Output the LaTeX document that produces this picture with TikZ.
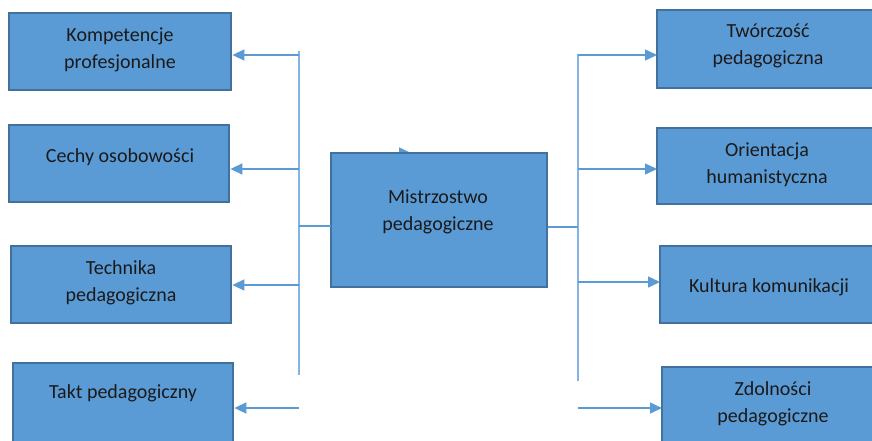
\documentclass[tikz,border=0pt]{standalone}
\usepackage{fontspec}
\setmainfont{Carlito}
\usetikzlibrary{arrows.meta,backgrounds}
\definecolor{boxfill}{HTML}{5B9BD5}
\definecolor{boxline}{HTML}{41719C}
\definecolor{arrcol}{HTML}{5B9BD5}
\definecolor{trunkcol}{HTML}{86B3E3}
\definecolor{txtcol}{HTML}{1A1A1A}
\tikzset{
  box/.style={draw=boxline, fill=boxfill, line width=1.4pt, rectangle, inner sep=0pt},
  lbl/.style={align=center, text=txtcol, font=\fontsize{20}{27}\selectfont, inner sep=0pt},
  arr/.style={draw=arrcol, line width=1.5pt, -{Triangle[length=12pt,width=11pt]}},
  link/.style={draw=arrcol, line width=1.5pt},
  trunk/.style={draw=trunkcol, line width=2pt},
}
\begin{document}
\begin{tikzpicture}[x=1pt,y=-1pt]
\useasboundingbox (0,0) rectangle (872,440);
% boxes
\path[box] (9,13) rectangle (231,90) node[pos=0,anchor=north west,minimum width=222,minimum height=77,inner sep=0pt] (L1) {};
\path[box] (9,125) rectangle (229,202) node[pos=0,anchor=north west,minimum width=220,minimum height=77,inner sep=0pt] (L2) {};
\path[box] (11,246) rectangle (231,323) node[pos=0,anchor=north west,minimum width=220,minimum height=77,inner sep=0pt] (L3) {};
\path[box] (13,363) rectangle (233,445) node[pos=0,anchor=north west,minimum width=220,minimum height=82,inner sep=0pt] (L4) {};
\path[box] (657,10) rectangle (876,88) node[pos=0,anchor=north west,minimum width=219,minimum height=78,inner sep=0pt] (R1) {};
\path[box] (657,128) rectangle (876,204) node[pos=0,anchor=north west,minimum width=219,minimum height=76,inner sep=0pt] (R2) {};
\path[box] (660,246) rectangle (876,323) node[pos=0,anchor=north west,minimum width=216,minimum height=77,inner sep=0pt] (R3) {};
\path[box] (662,367) rectangle (876,445) node[pos=0,anchor=north west,minimum width=214,minimum height=78,inner sep=0pt] (R4) {};
\path[box] (331,153) rectangle (547,287) node[pos=0,anchor=north west,minimum width=216,minimum height=134,inner sep=0pt] (C) {};
% labels
\node[lbl] (tL1) at (120,50) {Kompetencje\\profesjonalne};
\node[lbl] (tL2) at (120,157) {Cechy osobowości};
\node[lbl] (tL3) at (121,283) {Technika\\pedagogiczna};
\node[lbl] (tL4) at (123,393) {Takt pedagogiczny};
\node[lbl] (tR1) at (768,46) {Twórczość\\pedagogiczna};
\node[lbl] (tR2) at (767,165) {Orientacja\\humanistyczna};
\node[lbl] (tR3) at (769,287) {Kultura komunikacji};
\node[lbl] (tR4) at (773,404) {Zdolności\\pedagogiczne};
\node[lbl] (tC) at (438,212) {Mistrzostwo\\pedagogiczne};
% trunk coordinates
\coordinate (ltop) at (299,51);
\coordinate (lbot) at (299,375);
\coordinate (l1) at (299,55);
\coordinate (l2) at (299,169);
\coordinate (l3) at (299,285);
\coordinate (l4) at (299,408);
\coordinate (lj) at (299,226);
\coordinate (rtop) at (578,54);
\coordinate (rbot) at (578,381);
\coordinate (r1) at (578,55);
\coordinate (r2) at (578,169);
\coordinate (r3) at (578,282);
\coordinate (r4) at (578,408);
\coordinate (rj) at (578,227);
\coordinate (stub) at (398,153);
\coordinate (stubend) at (411,153);
\begin{scope}[on background layer]
\fill[white] (0,0) rectangle (872,440);
\draw[arr] (stub) -- (stubend);
\end{scope}
% trunks
\draw[trunk] (ltop) -- (lbot);
\draw[trunk] (rtop) -- (rbot);
% joins
\draw[link] (C.west |- lj) -- (lj);
\draw[link] (C.east |- rj) -- (rj);
% arrows
\draw[arr] (l1) -- (l1 -| L1.east);
\draw[arr] (l2) -- (l2 -| L2.east);
\draw[arr] (l3) -- (l3 -| L3.east);
\draw[arr] (l4) -- (l4 -| L4.east);
\draw[arr] (r1) -- (r1 -| R1.west);
\draw[arr] (r2) -- (r2 -| R2.west);
\draw[arr] (r3) -- (r3 -| R3.west);
\draw[arr] (r4) -- (r4 -| R4.west);
\end{tikzpicture}
\end{document}
